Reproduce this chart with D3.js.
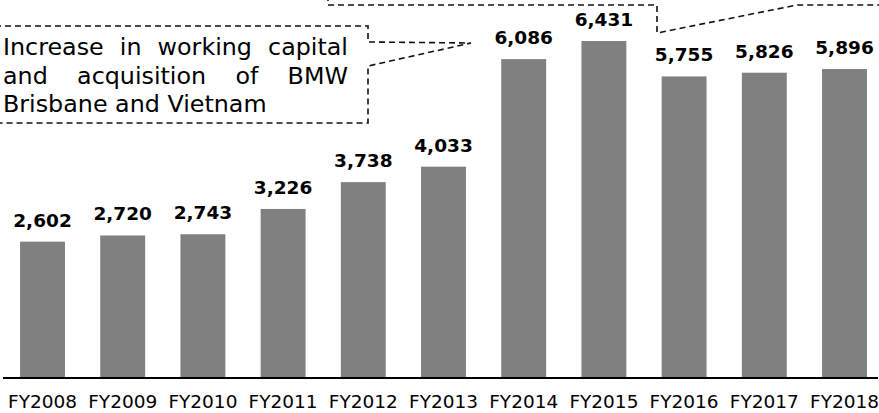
<!DOCTYPE html>
<html>
<head>
<meta charset="utf-8">
<script src="https://cdn.jsdelivr.net/npm/d3@7"></script>
<style>
  html, body { margin: 0; padding: 0; background: #fff; }
  svg { display: block; font-family: "DejaVu Sans", Verdana, sans-serif; }
</style>
</head>
<body>
<svg id="chart" width="879" height="413"></svg>
<script>
// Capital employed by financial year
const categories = ["FY2008", "FY2009", "FY2010", "FY2011", "FY2012", "FY2013",
                    "FY2014", "FY2015", "FY2016", "FY2017", "FY2018"];
const values = [2602, 2720, 2743, 3226, 3738, 4033, 6086, 6431, 5755, 5826, 5896];

// Callout text, one entry per line; the last line is not justified
const noteLines = ["Increase in working capital", "and acquisition of BMW", "Brisbane and Vietnam"];

const svg = d3.select("#chart");
const baseY = 378;

const x = d3.scaleBand()
  .domain(categories)
  .range([2.4, 884.6])
  .paddingInner(0.44)
  .paddingOuter(0.22);

const y = d3.scaleLinear()
  .domain([0, 7000])
  .range([baseY, 11.2]);

// Bars
svg.append("g")
  .selectAll("rect")
  .data(values)
  .join("rect")
  .attr("x", (d, i) => x(categories[i]))
  .attr("y", d => y(d))
  .attr("width", x.bandwidth())
  .attr("height", d => y(0) - y(d))
  .attr("fill", "#808080");

// Value labels
const fmt = d3.format(",");
svg.append("g")
  .selectAll("text")
  .data(values)
  .join("text")
  .attr("x", (d, i) => x(categories[i]) + x.bandwidth() / 2)
  .attr("y", d => y(d) - 15)
  .attr("text-anchor", "middle")
  .attr("font-size", 18.5)
  .attr("font-weight", "bold")
  .attr("fill", "#000")
  .text(d => fmt(d));

// Category axis
const axis = svg.append("g")
  .attr("transform", `translate(0,${baseY})`)
  .call(d3.axisBottom(x).tickSize(0).tickPadding(16.5));
axis.select(".domain").remove();
axis.selectAll("text")
  .attr("font-size", 18.5)
  .attr("font-family", "\"DejaVu Sans\", Verdana, sans-serif")
  .attr("fill", "#000");

svg.append("line")
  .attr("x1", 3).attr("x2", 878)
  .attr("y1", baseY).attr("y2", baseY)
  .attr("stroke", "#000")
  .attr("stroke-width", 2);

// Dashed callouts
const dash = { stroke: "#111", width: 1.6, pattern: "6,4" };

// Callout with pointer towards FY2014
svg.append("path")
  .attr("d", "M-5,26 L368,26 L368,42 L471,43 L368,66 L368,123 L-5,123")
  .attr("fill", "none")
  .attr("stroke", dash.stroke)
  .attr("stroke-width", dash.width)
  .attr("stroke-dasharray", dash.pattern);

// Callout above the plot, pointing down between FY2015 and FY2016
svg.append("path")
  .attr("d", "M328,-5 L328,5 L657,5 L657,33 L797,5 L885,5")
  .attr("fill", "none")
  .attr("stroke", dash.stroke)
  .attr("stroke-width", dash.width)
  .attr("stroke-dasharray", dash.pattern);

// Justified callout text
const note = svg.append("g")
  .attr("font-size", 23.8)
  .attr("fill", "#000");
const left = 3, right = 348;
const baselines = [55, 83.5, 112];
noteLines.forEach((line, li) => {
  const words = line.split(" ");
  if (li === noteLines.length - 1) {
    note.append("text").attr("x", left).attr("y", baselines[li]).text(line);
    return;
  }
  const nodes = words.map(w => note.append("text").attr("y", baselines[li]).text(w));
  const widths = nodes.map(n => n.node().getComputedTextLength());
  const total = d3.sum(widths);
  const gap = (right - left - total) / (words.length - 1);
  let cx = left;
  nodes.forEach((n, i) => {
    n.attr("x", cx);
    cx += widths[i] + gap;
  });
});
</script>
</body>
</html>
